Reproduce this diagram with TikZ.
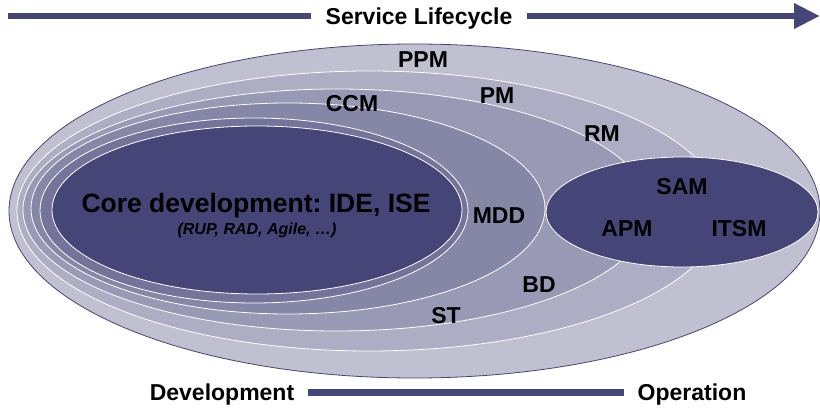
\documentclass[tikz,border=0pt]{standalone}
\usepackage{fontspec}
\setmainfont{Liberation Sans}
\usetikzlibrary{shapes.geometric,arrows.meta}
\definecolor{slnavy}{RGB}{69,69,120}
\frenchspacing

\begin{document}
\begin{tikzpicture}[x=1pt,y=-1pt,
  ring/.style={ellipse,draw=white,line width=0.8pt,inner sep=0pt},
  lbl/.style={font=\fontsize{23}{26}\selectfont\bfseries,inner sep=0pt,text height=16.5pt,text depth=0pt},
  bar/.style={slnavy,line width=6.5pt}]
  \useasboundingbox (0,0) rectangle (820,409);
  % nested rings
  \node[ring,draw=slnavy,fill=slnavy!34,minimum width=811pt,minimum height=334pt] (ppmring) at (414.5,211) {};
  \node[ring,fill=slnavy!44,minimum width=705pt,minimum height=280pt] (pmring) at (369.5,211) {};
  \node[ring,fill=slnavy!55,minimum width=627pt,minimum height=242pt] (ccmring) at (336.5,210) {};
  \node[ring,fill=slnavy!65,minimum width=514pt,minimum height=211pt] (mddring) at (288,208.5) {};
  \node[ring,fill=slnavy!75,minimum width=428pt,minimum height=185pt] (inring) at (254,210.5) {};
  \node[ring,fill=slnavy,minimum width=272pt,minimum height=110pt] (samring) at (682,212) {};
  \node[ring,fill=slnavy,minimum width=410pt,minimum height=168pt] (core) at (257,210) {};
  % core text
  \node[lbl,font=\fontsize{26.5}{30}\selectfont\bfseries,text height=19pt] (coretxt) at (256,203.5) {Core development: IDE, ISE};
  \node[lbl,font=\fontsize{16}{18}\selectfont\bfseries\itshape,text height=11.5pt] (coresub) at (257,228.3) {(RUP, RAD, Agile, …)};
  % ring labels
  \node[lbl] (ppm) at (423,59.5) {PPM};
  \node[lbl] (pm) at (497,95) {PM};
  \node[lbl] (ccm) at (352,103) {CCM};
  \node[lbl] (rm) at (602,133.5) {RM};
  \node[lbl] (mdd) at (499,215) {MDD};
  \node[lbl] (bd) at (539,284) {BD};
  \node[lbl] (st) at (446,315) {ST};
  \node[lbl] (sam) at (682,186) {SAM};
  \node[lbl] (apm) at (627,228) {APM};
  \node[lbl] (itsm) at (739,228) {ITSM};
  % lifecycle arrow
  \coordinate (lifeL) at (8,16);
  \coordinate (lifeR) at (820,16);
  \node[lbl,inner xsep=14pt] (life) at (419,16) {Service Lifecycle};
  \draw[bar] (lifeL) -- (life.west);
  \draw[bar,-{Triangle[length=26pt,width=24pt]}] (life.east) -- (lifeR);
  % development -> operation
  \node[lbl,inner xsep=14pt] (dev) at (222,392.5) {Development};
  \node[lbl,inner xsep=13pt] (ops) at (692,392.5) {Operation};
  \draw[bar] (dev.east) -- (ops.west);
\end{tikzpicture}
\end{document}
